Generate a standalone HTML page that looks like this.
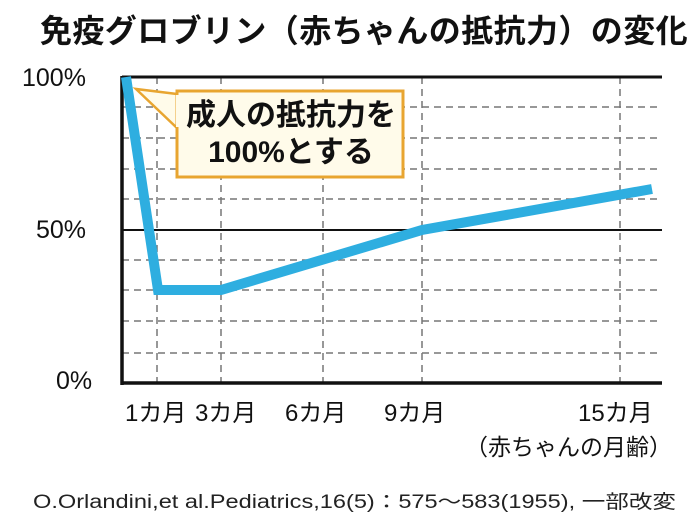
<!DOCTYPE html>
<html><head><meta charset="utf-8"><style>
html,body{margin:0;padding:0;background:#fff;}
body{width:700px;height:525px;overflow:hidden;position:relative;font-family:"Liberation Sans","Noto Sans CJK JP",sans-serif;color:#111;}
.t{position:absolute;white-space:nowrap;}
</style></head><body>
<div class="t" style="left:40px;top:6px;font-size:32px;font-weight:bold;letter-spacing:0.4px;">免疫グロブリン（赤ちゃんの抵抗力）の変化</div>
<svg width="700" height="525" style="position:absolute;left:0;top:0">
<g stroke="#777" stroke-width="1.5" stroke-dasharray="7,5" fill="none">
<line x1="122" y1="107" x2="662" y2="107"/><line x1="122" y1="138" x2="662" y2="138"/>
<line x1="122" y1="169" x2="662" y2="169"/><line x1="122" y1="199" x2="662" y2="199"/>
<line x1="122" y1="260" x2="662" y2="260"/><line x1="122" y1="290" x2="662" y2="290"/>
<line x1="122" y1="321" x2="662" y2="321"/><line x1="122" y1="353" x2="662" y2="353"/>
<line x1="157" y1="77" x2="157" y2="383"/><line x1="221" y1="77" x2="221" y2="383"/>
<line x1="323" y1="77" x2="323" y2="383"/><line x1="422" y1="77" x2="422" y2="383"/>
<line x1="620" y1="77" x2="620" y2="383"/>
</g>
<line x1="122" y1="77" x2="662" y2="77" stroke="#111" stroke-width="3"/>
<line x1="122" y1="230" x2="662" y2="230" stroke="#111" stroke-width="2"/>
<line x1="122" y1="383" x2="662" y2="383" stroke="#111" stroke-width="3.5"/>
<line x1="122" y1="76" x2="122" y2="385" stroke="#111" stroke-width="3.5"/>
<polyline points="126,77 158,290 221,290 422,230 652,189" fill="none" stroke="#2eaee0" stroke-width="10" stroke-linejoin="miter"/>
<path d="M177,94 L136,89 L177,128 Z" fill="#fffbea" stroke="#e8a530" stroke-width="2.5" stroke-linejoin="miter"/>
<rect x="177" y="91" width="226" height="86" fill="#fffbea" stroke="#e8a530" stroke-width="3"/>
<rect x="176" y="95" width="4" height="32" fill="#fffbea"/>
</svg>
<div class="t" style="left:182px;top:97px;width:218px;text-align:center;font-size:30px;font-weight:bold;line-height:37px;">成人の抵抗力を<br>100%とする</div>
<div class="t" style="left:22px;top:64px;font-size:25px;">100%</div>
<div class="t" style="left:36px;top:216px;font-size:25px;">50%</div>
<div class="t" style="left:56px;top:367px;font-size:25px;">0%</div>
<div class="t" style="left:125px;top:393px;font-size:24px;">1カ月</div>
<div class="t" style="left:195px;top:393px;font-size:24px;">3カ月</div>
<div class="t" style="left:285px;top:393px;font-size:24px;">6カ月</div>
<div class="t" style="left:384px;top:393px;font-size:24px;">9カ月</div>
<div class="t" style="left:578px;top:393px;font-size:24px;">15カ月</div>
<div class="t" style="left:465px;top:428px;font-size:23px;">（赤ちゃんの月齢）</div>
<div class="t" style="left:33px;top:487px;font-size:19px;color:#222;transform:scaleX(1.24);transform-origin:0 0;">O.Orlandini,et al.Pediatrics,16(5)：575～583(1955), 一部改変</div>
</body></html>
